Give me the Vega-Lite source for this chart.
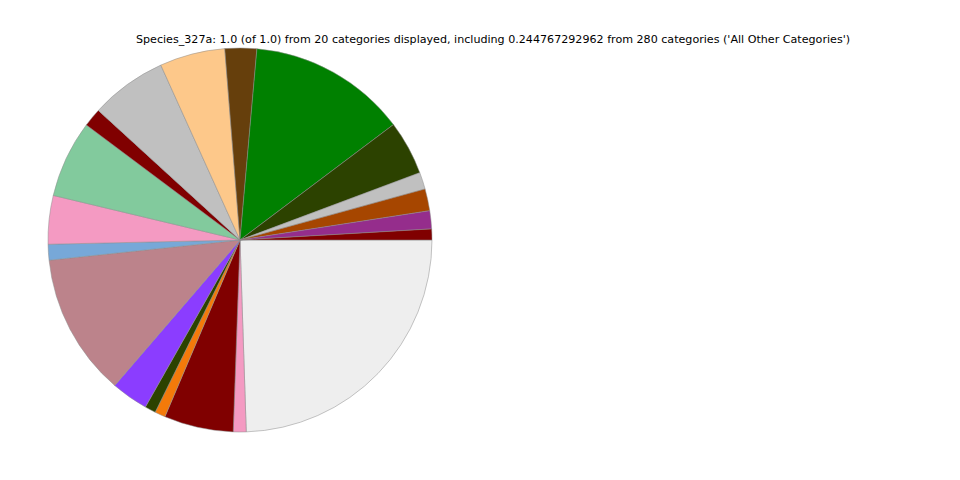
{
  "$schema": "https://vega.github.io/schema/vega-lite/v6.json",
  "width": 480,
  "height": 480,
  "autosize": {"type": "none"},
  "padding": {"left": 0, "top": 0, "right": 480, "bottom": 0},
  "background": "white",
  "view": {"stroke": null},
  "title": {
    "text": "Species_327a: 1.0 (of 1.0) from 20 categories displayed, including 0.244767292962 from 280 categories ('All Other Categories')",
    "font": "DejaVu Sans",
    "fontSize": 11.12,
    "fontWeight": "normal",
    "color": "black",
    "anchor": "middle",
    "offset": 0,
    "baseline": "middle",
    "dx": 253,
    "dy": 51
  },
  "data": {
    "values": [
      {"category": "All Other Categories", "share": 0.244767, "ord": 1},
      {"category": "cat19", "share": 0.0108, "ord": 2},
      {"category": "cat18", "share": 0.0583, "ord": 3},
      {"category": "cat17", "share": 0.0089, "ord": 4},
      {"category": "cat16", "share": 0.0092, "ord": 5},
      {"category": "cat15", "share": 0.0311, "ord": 6},
      {"category": "cat14", "share": 0.12, "ord": 7},
      {"category": "cat13", "share": 0.0133, "ord": 8},
      {"category": "cat12", "share": 0.0408, "ord": 9},
      {"category": "cat11", "share": 0.065, "ord": 10},
      {"category": "cat10", "share": 0.0156, "ord": 11},
      {"category": "cat09", "share": 0.0644, "ord": 12},
      {"category": "cat08", "share": 0.055, "ord": 13},
      {"category": "cat07", "share": 0.0267, "ord": 14},
      {"category": "cat06", "share": 0.1333, "ord": 15},
      {"category": "cat05", "share": 0.0456, "ord": 16},
      {"category": "cat04", "share": 0.0142, "ord": 17},
      {"category": "cat03", "share": 0.0184, "ord": 18},
      {"category": "cat02", "share": 0.0152, "ord": 19},
      {"category": "cat01", "share": 0.0092, "ord": 20}
    ]
  },
  "mark": {"type": "arc", "outerRadius": 192, "stroke": "#8c8c8c", "strokeWidth": 0.5},
  "encoding": {
    "theta": {"field": "share", "type": "quantitative", "stack": true, "scale": {"range": [1.5708, 7.854]}},
    "order": {"field": "ord", "type": "quantitative"},
    "color": {
      "field": "category",
      "type": "nominal",
      "legend": null,
      "scale": {
        "domain": ["All Other Categories", "cat19", "cat18", "cat17", "cat16", "cat15", "cat14", "cat13", "cat12", "cat11", "cat10", "cat09", "cat08", "cat07", "cat06", "cat05", "cat04", "cat03", "cat02", "cat01"],
        "range": ["#EEEEEE", "#F49AC2", "#800000", "#F47A0A", "#2C4200", "#8B3DFF", "#BC838B", "#77A8D8", "#F49AC2", "#82CA9D", "#800000", "#C0C0C0", "#FDC88A", "#663F0C", "#008000", "#2C4200", "#C0C0C0", "#A64600", "#952D8C", "#800000"]
      }
    }
  }
}
